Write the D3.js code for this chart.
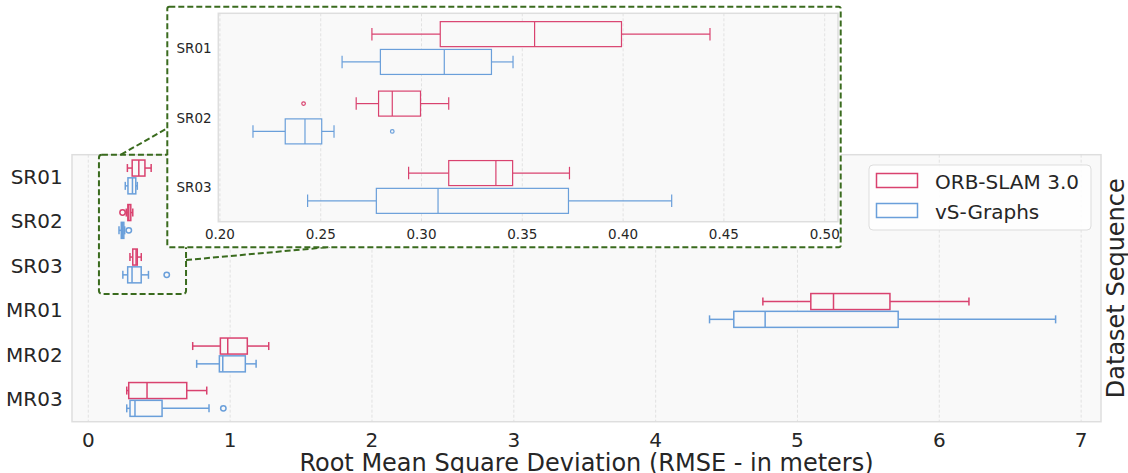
<!DOCTYPE html>
<html>
<head>
<meta charset="utf-8">
<script src="https://cdn.jsdelivr.net/npm/d3@7"></script>
<style>
  body { margin: 0; background: #fff; }
  svg { display: block; font-family: "DejaVu Sans", sans-serif; }
</style>
</head>
<body>
<script>
// data: box stats per sequence -> [whisker low, q1, median, q3, whisker high]
var categories = ['SR01', 'SR02', 'SR03', 'MR01', 'MR02', 'MR03'];
var insetCategories = ['SR01', 'SR02', 'SR03'];
var seriesNames = ['ORB-SLAM 3.0', 'vS-Graphs'];
var seriesColors = ['#d9426f', '#6a9fda'];

var orbStats = [
  [0.2754, 0.3093, 0.3561, 0.3992, 0.4431],
  [0.2676, 0.2787, 0.2855, 0.2995, 0.3135],
  [0.2936, 0.3135, 0.3369, 0.3452, 0.3734],
  [4.756, 5.094, 5.254, 5.652, 6.209],
  [0.736, 0.931, 0.983, 1.121, 1.272],
  [0.271, 0.285, 0.414, 0.694, 0.835]
];
var vsStats = [
  [0.2606, 0.2796, 0.3113, 0.3347, 0.3454],
  [0.2164, 0.2324, 0.2422, 0.2505, 0.2566],
  [0.2435, 0.2776, 0.3082, 0.3729, 0.4241],
  [4.380, 4.551, 4.772, 5.710, 6.820],
  [0.764, 0.924, 0.948, 1.107, 1.183],
  [0.271, 0.294, 0.329, 0.520, 0.851]
];
var orbOutliers = [[], [0.2415], [], [], [], []];
var vsOutliers = [[], [0.2855], [0.553], [], [], [0.952]];

var mainTicks = [0, 1, 2, 3, 4, 5, 6, 7];
var insetTicks = [0.20, 0.25, 0.30, 0.35, 0.40, 0.45, 0.50];

var width = 1128;
var height = 473;

var svg = d3.select('body')
  .append('svg')
    .attr('width', width)
    .attr('height', height);

// main axes
var main = { left: 72, right: 1101, top: 154.7, bottom: 421.7 };

var x = d3.scaleLinear()
    .domain([-0.115, 7.14])
    .range([main.left, main.right]);

var y = d3.scaleBand()
    .domain(categories)
    .range([main.top, main.bottom]);

// inset axes
var inset = { left: 218.3, right: 838, top: 13.3, bottom: 221.7 };

var xi = d3.scaleLinear()
    .domain([0.1992, 0.5066])
    .range([inset.left, inset.right]);

var yi = d3.scaleBand()
    .domain(insetCategories)
    .range([inset.top, inset.bottom]);

var series = [
  { name: seriesNames[0], color: seriesColors[0], stats: orbStats, outliers: orbOutliers, shift: -0.2 },
  { name: seriesNames[1], color: seriesColors[1], stats: vsStats, outliers: vsOutliers, shift: 0.2 }
];

// axes frame, grid, ticks
function drawFrame(g, xs, ys, box, ticks, fmt, fontSize, tickY, labelX) {
  g.append('rect')
    .attr('x', box.left)
    .attr('y', box.top)
    .attr('width', box.right - box.left)
    .attr('height', box.bottom - box.top)
    .style('fill', '#f9f9f9')
    .style('stroke', '#dedede')
    .style('stroke-width', 1.5);

  g.selectAll()
    .data(ticks)
    .enter()
    .append('line')
      .attr('x1', function(d) { return xs(d); })
      .attr('x2', function(d) { return xs(d); })
      .attr('y1', box.top)
      .attr('y2', box.bottom)
      .style('stroke', '#dcdcdc')
      .style('stroke-width', 0.8)
      .style('stroke-dasharray', '3,2');

  g.selectAll()
    .data(ticks)
    .enter()
    .append('text')
      .attr('x', function(d) { return xs(d); })
      .attr('y', tickY)
      .attr('text-anchor', 'middle')
      .style('font-size', fontSize + 'px')
      .style('fill', '#262626')
      .text(fmt);

  g.selectAll()
    .data(ys.domain())
    .enter()
    .append('text')
      .attr('x', labelX)
      .attr('y', function(d) { return ys(d) + ys.bandwidth() / 2; })
      .attr('text-anchor', 'end')
      .attr('dominant-baseline', 'central')
      .style('font-size', fontSize + 'px')
      .style('fill', '#262626')
      .text(function(d) { return d; });
}

// horizontal box plots for one series
function drawBoxes(g, xs, ys, s, opts) {
  var bh = ys.bandwidth() * 0.36;
  var cap = bh / 2;
  var rows = ys.domain().map(function(c) {
    var i = categories.indexOf(c);
    return { cat: c, st: s.stats[i], out: s.outliers[i] };
  });
  var cy = function(d) { return ys(d.cat) + ys.bandwidth() * (0.5 + s.shift); };

  var grp = g.selectAll()
    .data(rows)
    .enter()
    .append('g')
      .style('stroke', s.color)
      .style('stroke-width', opts.sw)
      .style('fill', 'none');

  // whiskers
  grp.append('line')
    .attr('x1', function(d) { return xs(d.st[0]); })
    .attr('x2', function(d) { return xs(d.st[1]); })
    .attr('y1', cy).attr('y2', cy);
  grp.append('line')
    .attr('x1', function(d) { return xs(d.st[3]); })
    .attr('x2', function(d) { return xs(d.st[4]); })
    .attr('y1', cy).attr('y2', cy);
  // caps
  [0, 4].forEach(function(k) {
    grp.append('line')
      .attr('x1', function(d) { return xs(d.st[k]); })
      .attr('x2', function(d) { return xs(d.st[k]); })
      .attr('y1', function(d) { return cy(d) - cap / 2; })
      .attr('y2', function(d) { return cy(d) + cap / 2; });
  });
  // box
  grp.append('rect')
    .attr('x', function(d) { return xs(d.st[1]); })
    .attr('width', function(d) { return xs(d.st[3]) - xs(d.st[1]); })
    .attr('y', function(d) { return cy(d) - bh / 2; })
    .attr('height', bh)
    .style('fill', opts.fill);
  // median
  grp.append('line')
    .attr('x1', function(d) { return xs(d.st[2]); })
    .attr('x2', function(d) { return xs(d.st[2]); })
    .attr('y1', function(d) { return cy(d) - bh / 2; })
    .attr('y2', function(d) { return cy(d) + bh / 2; });
  // outliers
  grp.each(function(d) {
    var xmax = xs.domain()[1];
    d3.select(this).selectAll('circle')
      .data(d.out.filter(function(v) { return v <= xmax; }))
      .enter()
      .append('circle')
        .attr('cx', function(v) { return xs(v); })
        .attr('cy', cy(d))
        .attr('r', opts.r);
  });
}

var mainG = svg.append('g');
drawFrame(mainG, x, y, main, mainTicks, function(d) { return d; }, 20, 446.7, 62.7);
series.forEach(function(s) {
  drawBoxes(mainG, x, y, s, { sw: 1.5, r: 2.7, fill: '#f9f9f9' });
});

// zoom marker in the main axes and connectors
var green = '#3a6b1e';
var marker = svg.append('g')
    .style('fill', 'none')
    .style('stroke', green)
    .style('stroke-width', 2)
    .style('stroke-dasharray', '6,3');

marker.append('rect')
  .attr('x', x(0.075))
  .attr('y', main.top)
  .attr('width', x(0.689) - x(0.075))
  .attr('height', 294 - main.top)
  .attr('rx', 3);

marker.append('line')
  .attr('x1', x(0.23)).attr('y1', main.top)
  .attr('x2', 168).attr('y2', 127.7);

marker.append('line')
  .attr('x1', x(0.689)).attr('y1', 260)
  .attr('x2', 330).attr('y2', 247);

// inset
var insetG = svg.append('g');
insetG.append('rect')
  .attr('x', 167.3)
  .attr('y', 6.7)
  .attr('width', 840.7 - 167.3)
  .attr('height', 247.3 - 6.7)
  .attr('rx', 2)
  .style('fill', '#fff')
  .style('stroke', green)
  .style('stroke-width', 2)
  .style('stroke-dasharray', '6,3');

drawFrame(insetG, xi, yi, inset, insetTicks, d3.format('.2f'), 13.5, 239, 211.7);
series.forEach(function(s) {
  drawBoxes(insetG, xi, yi, s, { sw: 1.2, r: 1.8, fill: '#f9f9f9' });
});

// legend
var legend = svg.append('g');
legend.append('rect')
  .attr('x', 869)
  .attr('y', 165)
  .attr('width', 222)
  .attr('height', 65)
  .attr('rx', 4)
  .style('fill', '#fff')
  .style('fill-opacity', 0.85)
  .style('stroke', '#dddddd');

var entries = legend.selectAll('g.entry')
  .data(series)
  .enter()
  .append('g')
    .attr('class', 'entry')
    .attr('transform', function(d, i) { return 'translate(0,' + (i * 30) + ')'; });

entries.append('rect')
  .attr('x', 876.5)
  .attr('y', 173.5)
  .attr('width', 41)
  .attr('height', 14)
  .style('fill', 'none')
  .style('stroke', function(d) { return d.color; })
  .style('stroke-width', 1.5);

entries.append('text')
  .attr('x', 935)
  .attr('y', 189)
  .style('font-size', '20px')
  .style('fill', '#262626')
  .text(function(d) { return d.name; });

// axis titles
svg.append('text')
  .attr('x', (main.left + main.right) / 2)
  .attr('y', 471)
  .attr('text-anchor', 'middle')
  .style('font-size', '24px')
  .style('fill', '#262626')
  .text('Root Mean Square Deviation (RMSE - in meters)');

svg.append('text')
  .attr('transform', 'translate(1124,' + ((main.top + main.bottom) / 2) + ') rotate(-90)')
  .attr('text-anchor', 'middle')
  .style('font-size', '24px')
  .style('fill', '#262626')
  .text('Dataset Sequence');
</script>
</body>
</html>
